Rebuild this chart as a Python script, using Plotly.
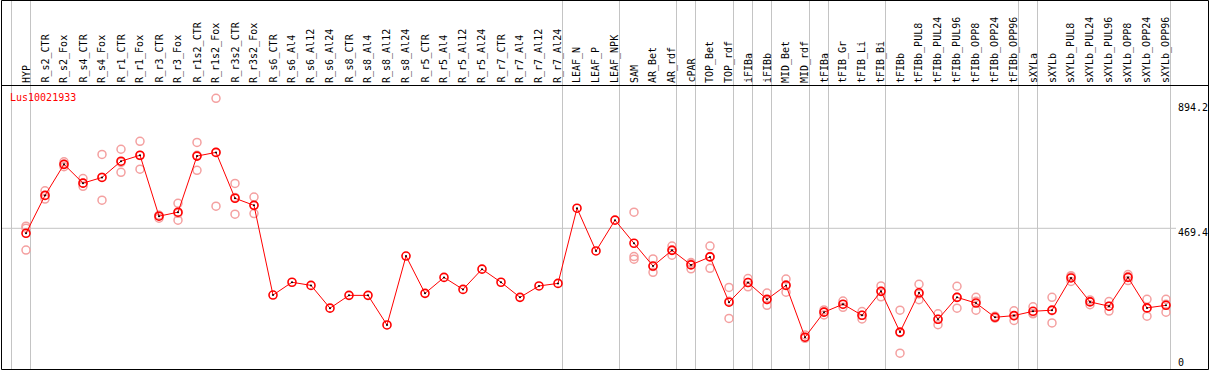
import plotly.graph_objects as go

W, H = 1209, 370

categories = ["HYP", "R_s2_CTR", "R_s2_Fox", "R_s4_CTR", "R_s4_Fox", "R_r1_CTR", "R_r1_Fox",
              "R_r3_CTR", "R_r3_Fox", "R_r1s2_CTR", "R_r1s2_Fox", "R_r3s2_CTR", "R_r3s2_Fox",
              "R_s6_CTR", "R_s6_Al4", "R_s6_Al12", "R_s6_Al24", "R_s8_CTR", "R_s8_Al4", "R_s8_Al12",
              "R_s8_Al24", "R_r5_CTR", "R_r5_Al4", "R_r5_Al12", "R_r5_Al24", "R_r7_CTR", "R_r7_Al4",
              "R_r7_Al12", "R_r7_Al24", "LEAF_N", "LEAF_P", "LEAF_NPK", "SAM", "AR_Bet", "AR_rdf",
              "cPAR", "TOP_Bet", "TOP_rdf", "iFIBa", "iFIBb", "MID_Bet", "MID_rdf", "tFIBa",
              "tFIB_Gr", "tFIB_Li", "tFIB_Bi", "tFIBb", "tFIBb_PUL8", "tFIBb_PUL24", "tFIBb_PUL96",
              "tFIBb_OPP8", "tFIBb_OPP24", "tFIBb_OPP96", "sXYLa", "sXYLb", "sXYLb_PUL8",
              "sXYLb_PUL24", "sXYLb_PUL96", "sXYLb_OPP8", "sXYLb_OPP24", "sXYLb_OPP96"]

mean_values = [452, 585, 694, 628, 648, 705, 726, 512, 526, 723, 736, 575, 550,
               235, 280, 269, 189, 234, 234, 130, 372, 241, 297, 255, 326, 280, 227, 267, 276,
               540, 390, 498, 417, 337, 392, 341, 369, 210, 279, 220, 269, 87, 175, 203, 164,
               248, 105, 243, 150, 227, 207, 157, 163, 178, 182, 295, 211, 196, 297, 190, 199]

rep1 = [477, 601, 703, 644, 729, 747, 775, 515, 557, 771, 926, 627, 579,
        None, None, None, None, None, None, None, None, None, None, None, None, None, None, None, None,
        None, None, None, 526, 362, 407, 349, 407, 262, 293, 242, 291, 95, 183, 214, 177,
        267, 182, 273, 169, 266, 227, 161, 180, 194, 227, 303, 218, 212, 307, 220, 220]
rep2 = [470, 572, 694, 617, 568, 666, 677, 505, 498, 673, 547, 519, 521,
        None, None, None, None, None, None, None, None, None, None, None, None, None, None, None, None,
        None, None, None, 370, 315, 375, 327, 329, 153, 264, 199, 245, 83, 165, 192, 151,
        229, 31, 219, 131, 189, 182, 154, 146, 169, 137, 283, 201, 179, 286, 161, 175]
rep3 = [393, 585, 686, 628, 649, 701, 725, 514, 522, 726, 736, 578, 550,
        None, None, None, None, None, None, None, None, None, None, None, None, None, None, None, None,
        None, None, None, 361, 335, 394, 346, 370, 213, 279, 219, 271, 87, 176, 202, 164,
        248, 103, 239, 150, 227, 213, 157, 162, 171, 180, 299, 213, 196, 300, 188, 203]

# group separators: a line after these category indices (0-based; -1 = before first)
group_ends = [-1, 0, 28, 31, 34, 35, 37, 38, 39, 41, 42, 45, 52, 53, 60]

y_ticks = [894.2, 469.4, 0]
gene_id = "Lus10021933"

# pixel geometry
X0, DX = 26.0, 19.0          # pixel of first category, spacing
Y0, SY = 362.0, 0.2848       # pixel of value 0, pixels per unit
xr = [(0 - X0) / DX, (W - X0) / DX]
yr = [(Y0 - H) / SY, Y0 / SY]


def px(x):
    return x / W


def py(y):
    return 1 - y / H


xs = list(range(len(categories)))
RED = "#ff0000"
PINK = "#f4a0a0"
GRID = "#c4c4c4"
FONT = "DejaVu Sans Mono"

fig = go.Figure()
for rep in (rep1, rep2, rep3):
    fig.add_trace(go.Scatter(x=xs, y=rep, mode="markers",
                             marker=dict(symbol="circle-open", size=8, color=PINK,
                                         line=dict(width=1.5, color=PINK)),
                             hoverinfo="skip", showlegend=False))
fig.add_trace(go.Scatter(x=xs, y=mean_values, mode="lines+markers",
                         line=dict(color=RED, width=1),
                         marker=dict(symbol="circle-open", size=8, color=RED,
                                     line=dict(width=1.6, color=RED)),
                         showlegend=False))
fig.add_trace(go.Scatter(x=xs, y=mean_values, mode="markers",
                         marker=dict(symbol="circle", size=2, color="#000000"),
                         hoverinfo="skip", showlegend=False))

shapes = []
# vertical group lines (full height)
for k in group_ends:
    xv = k + 4.5 / DX
    shapes.append(dict(type="line", xref="x", yref="paper", x0=xv, x1=xv, y0=py(369), y1=py(0),
                       line=dict(color=GRID, width=1), layer="below"))
# horizontal grid at middle tick
shapes.append(dict(type="line", xref="paper", yref="y", x0=px(1), x1=px(1176),
                   y0=y_ticks[1], y1=y_ticks[1], line=dict(color=GRID, width=1), layer="below"))
# header bottom line
shapes.append(dict(type="line", xref="paper", yref="paper", x0=px(1), x1=px(1208.5),
                   y0=py(85.5), y1=py(85.5), line=dict(color="#000000", width=1)))
# outer frame
shapes.append(dict(type="rect", xref="paper", yref="paper", x0=px(1.5), x1=px(1208.5),
                   y0=py(369.5), y1=py(0.5), line=dict(color="#000000", width=1)))

annotations = []
for i, name in enumerate(categories):
    annotations.append(dict(x=i, y=py(84), xref="x", yref="paper", text=name, textangle=-90,
                            showarrow=False, xanchor="center", yanchor="bottom",
                            font=dict(family=FONT, size=10, color="#000000"), borderpad=0))
annotations.append(dict(x=px(9), y=py(97), xref="paper", yref="paper", text=gene_id,
                        showarrow=False, xanchor="left", yanchor="middle",
                        font=dict(family=FONT, size=10, color=RED), borderpad=0))
for t, ys in zip(y_ticks, [0, -4, 0]):
    lab = f"{t:.1f}" if t else "0"
    annotations.append(dict(x=px(1177), y=t, xref="paper", yref="y", text=lab, yshift=ys,
                            showarrow=False, xanchor="left", yanchor="middle",
                            font=dict(family=FONT, size=10, color="#000000"), borderpad=0))

fig.update_layout(
    width=W, height=H, autosize=False,
    margin=dict(l=0, r=0, t=0, b=0, pad=0),
    paper_bgcolor="#ffffff", plot_bgcolor="#ffffff",
    xaxis=dict(range=xr, visible=False, showgrid=False, zeroline=False, domain=[0, 1]),
    yaxis=dict(range=yr, visible=False, showgrid=False, zeroline=False, domain=[0, 1]),
    shapes=shapes, annotations=annotations,
)

fig.write_html("out.html", config={"displayModeBar": False},
               post_script="document.body.style.margin='0';document.body.style.overflow='hidden';")
